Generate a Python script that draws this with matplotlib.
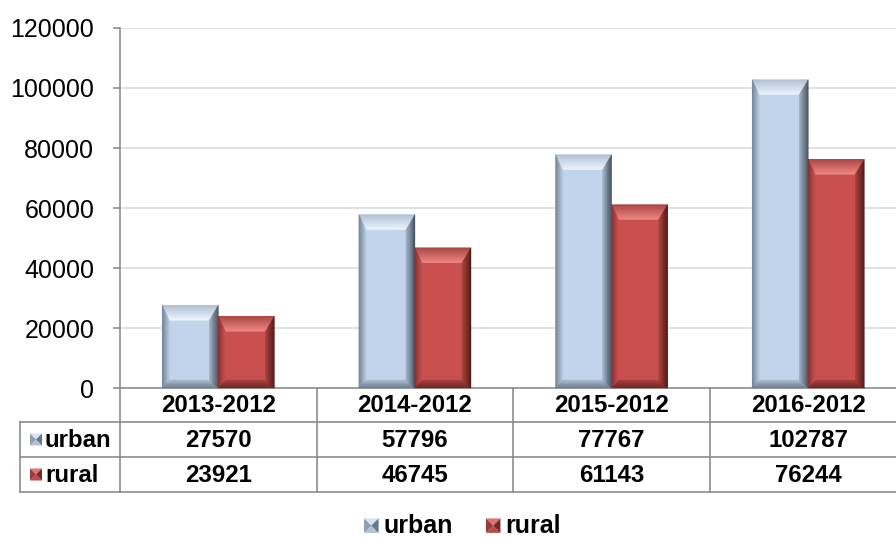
import matplotlib
matplotlib.use('Agg')
import matplotlib.pyplot as plt
import numpy as np
from matplotlib.patches import Polygon, Patch
from matplotlib.transforms import Affine2D
from matplotlib.colors import to_rgb
from matplotlib.legend_handler import HandlerBase

plt.rcParams['font.family'] = ['Liberation Sans', 'DejaVu Sans']

# data
categories = ['2013-2012', '2014-2012', '2015-2012', '2016-2012']
urban = [27570, 57796, 77767, 102787]
rural = [23921, 46745, 61143, 76244]
series_names = ['urban', 'rural']
y_ticks = [0, 20000, 40000, 60000, 80000, 100000, 120000]

# bar face colour and bevel gradients (outer edge -> inner edge)
face_cols = {'urban': '#c2d4eb', 'rural': '#c9504e'}
bevel_cols = {
    'urban': {'top': ('#aebfd3', '#eef6ff'), 'left': ('#6c7e93', '#b7c8dc'),
              'right': ('#3c4856', '#a2b3c7'), 'bottom': ('#67778a', '#a9bacd')},
    'rural': {'top': ('#a84644', '#f08884'), 'left': ('#84302e', '#c4524f'),
              'right': ('#4a1614', '#aa4340'), 'bottom': ('#6a2220', '#a7413f')},
}
# small pyramid markers: top, bottom, left, right
mark_cols = {
    'urban': ['#d6e3f1', '#b0c1d4', '#8e9fb3', '#66778b'],
    'rural': ['#dc7471', '#b84a48', '#9a3a38', '#762927'],
}

W, H = 896, 538
fig = plt.figure(figsize=(W / 100, H / 100), dpi=100)
# pixel coordinates with origin at the top-left corner
px = Affine2D().scale(1 / W, -1 / H).translate(0, 1) + fig.transFigure

ax = fig.add_axes([120 / W, (H - 388) / H, 786.5 / W, 360 / H])
ax.set_xlim(-0.5, len(categories) - 0.5)
ax.set_ylim(0, 120000)
ax.set_yticks(y_ticks)
ax.set_yticklabels([str(v) for v in y_ticks], fontsize=18)
ax.set_xticks([])
ax.grid(axis='y', color='#d9d9d9', linewidth=1.1)
ax.set_axisbelow(True)
for s in ['top', 'right']:
    ax.spines[s].set_visible(False)
for s in ['left', 'bottom']:
    ax.spines[s].set_color('#868686')
    ax.spines[s].set_linewidth(1.1)
ax.tick_params(axis='y', length=5, width=1.1, color='#868686', pad=13.5)

x = np.arange(len(categories))
w = 0.285
bars_u = ax.bar(x - w / 2, urban, w, color=face_cols['urban'], linewidth=0)
bars_r = ax.bar(x + w / 2, rural, w, color=face_cols['rural'], linewidth=0)


def to_px(xd, yd):
    d = ax.transData.transform((xd, yd))
    return d[0], H - d[1]


def mix(c1, c2, t):
    a, b = np.array(to_rgb(c1)), np.array(to_rgb(c2))
    return a + (b - a) * t


def bevel(rect, cols, bt=15, bl=7, br=9, bb=8, n=10):
    x0, y0 = to_px(rect.get_x(), rect.get_y() + rect.get_height())
    x1, y1 = to_px(rect.get_x() + rect.get_width(), rect.get_y())

    def inner(t):
        return x0 + bl * t, y0 + bt * t, x1 - br * t, y1 - bb * t

    for k in range(n):
        t0, t1 = k / n, (k + 1) / n
        a0, b0, c0, d0 = inner(t0)
        a1, b1, c1, d1 = inner(t1)
        tm = (k + 0.5) / n
        sides = {
            'top': [(a0, b0), (c0, b0), (c1, b1), (a1, b1)],
            'bottom': [(a0, d0), (c0, d0), (c1, d1), (a1, d1)],
            'left': [(a0, b0), (a1, b1), (a1, d1), (a0, d0)],
            'right': [(c0, b0), (c1, b1), (c1, d1), (c0, d0)],
        }
        for side, pts in sides.items():
            c = mix(cols[side][0], cols[side][1], tm)
            ax.add_patch(Polygon(pts, closed=True, facecolor=c, edgecolor=c, linewidth=0.3,
                                 transform=px, clip_on=False, zorder=3))


for b in bars_u:
    bevel(b, bevel_cols['urban'])
for b in bars_r:
    bevel(b, bevel_cols['rural'])


def pyramid(cx, cy, h, cols, transform, target, up=1):
    tl, tr = (cx - h, cy - up * h), (cx + h, cy - up * h)
    bl, br = (cx - h, cy + up * h), (cx + h, cy + up * h)
    c = (cx, cy)
    arts = []
    for col, pts in [(cols[0], [tl, tr, c]), (cols[1], [bl, br, c]),
                     (cols[2], [tl, bl, c]), (cols[3], [tr, br, c])]:
        p = Polygon(pts, closed=True, facecolor=col, edgecolor='none', transform=transform)
        arts.append(p)
        if target is not None:
            target.add_artist(p)
    return arts


# data table below the plot
bounds = np.arange(len(categories) + 1) - 0.5
bx = [to_px(b, 0)[0] for b in bounds]
rows_y = [388, 422, 457, 492]
line_kw = dict(color='#8c8c8c', linewidth=1.2, transform=px)
for xb in bx:
    fig.add_artist(plt.Line2D([xb, xb], [rows_y[0], rows_y[-1]], **line_kw))
for yr in rows_y[1:]:
    fig.add_artist(plt.Line2D([20, W + 20], [yr, yr], **line_kw))
fig.add_artist(plt.Line2D([20, 20], [rows_y[1], rows_y[-1]], **line_kw))

for i, cat in enumerate(categories):
    cx = to_px(i, 0)[0]
    fig.text(cx, (rows_y[0] + rows_y[1]) / 2 + 1, cat, transform=px, ha='center', va='center',
             fontsize=17.3, fontweight='bold')
    fig.text(cx, (rows_y[1] + rows_y[2]) / 2 + 1, str(urban[i]), transform=px, ha='center',
             va='center', fontsize=17.3, fontweight='bold')
    fig.text(cx, (rows_y[2] + rows_y[3]) / 2 + 1, str(rural[i]), transform=px, ha='center',
             va='center', fontsize=17.3, fontweight='bold')

for k, name in enumerate(series_names):
    yc = (rows_y[k + 1] + rows_y[k + 2]) / 2
    pyramid(36, yc, 6, mark_cols[name], px, fig)
    fig.text(45, yc + 1, name, transform=px, ha='left', va='center', fontsize=17.3,
             fontweight='bold')


class PyramidHandler(HandlerBase):
    def create_artists(self, legend, orig_handle, xdescent, ydescent, width, height,
                       fontsize, trans):
        h = fontsize * 0.29
        cx = width - h - xdescent
        cy = height / 2 - ydescent - 1
        return pyramid(cx, cy, h, mark_cols[orig_handle.get_label()], trans, None, up=-1)


handles = [Patch(label=n) for n in series_names]
fig.legend(handles=handles, labels=series_names, loc='center',
           bbox_to_anchor=(461 / W, 1 - 526 / H), ncol=2, frameon=False,
           prop={'size': 18, 'weight': 'bold'}, handlelength=0.7, handletextpad=0.2,
           columnspacing=1.2, borderpad=0.1, handler_map={Patch: PyramidHandler()})

fig.savefig('out.png', dpi=100)
